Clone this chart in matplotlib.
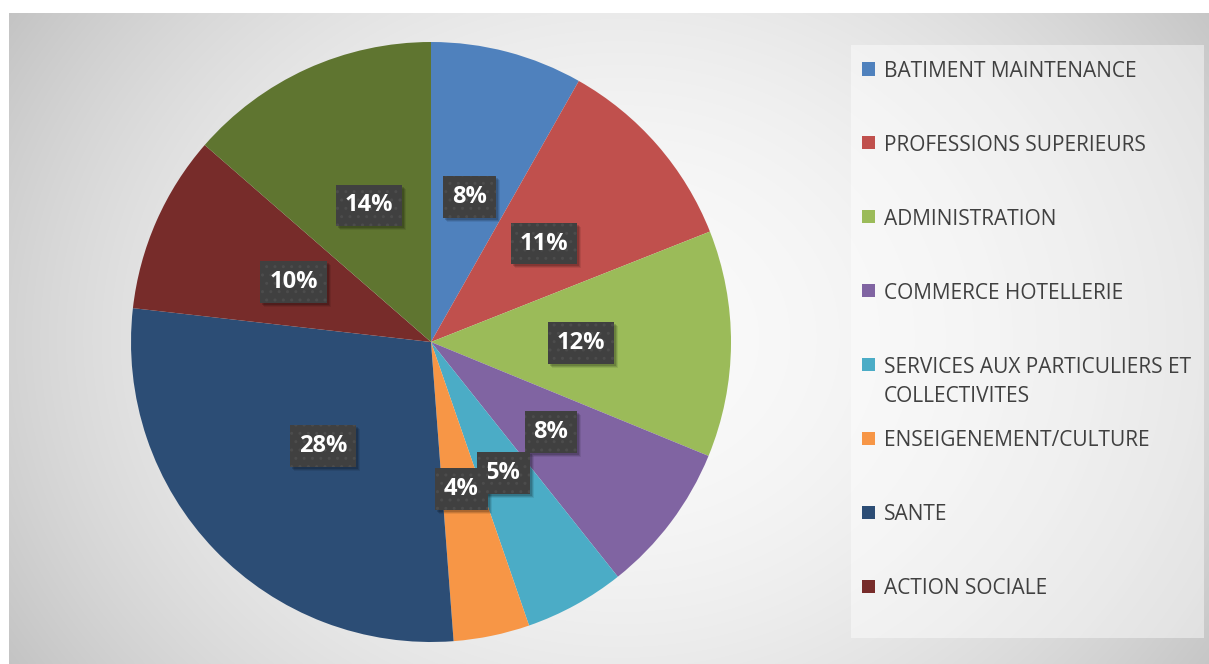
import numpy as np
import matplotlib
matplotlib.use('Agg')
import matplotlib.pyplot as plt
from matplotlib.patches import Rectangle

# data (share in %)
categories = ['BATIMENT MAINTENANCE', 'PROFESSIONS SUPERIEURS', 'ADMINISTRATION',
              'COMMERCE HOTELLERIE', 'SERVICES AUX PARTICULIERS ET\nCOLLECTIVITES',
              'ENSEIGENEMENT/CULTURE', 'SANTE', 'ACTION SOCIALE', 'AUTRES']
values = [8.2, 10.8, 12.2, 8.1, 5.4, 4.1, 28.0, 9.6, 13.6]
pct_labels = ['8%', '11%', '12%', '8%', '5%', '4%', '28%', '10%', '14%']
colors = ['#4f81bd', '#c0504d', '#9bbb59', '#8064a2', '#4bacc6',
          '#f79646', '#2c4d75', '#772c2a', '#5f7530']
n_legend = 8  # last entry is cut off in the original legend

W, H = 1209, 664
fig = plt.figure(figsize=(W / 100, H / 100), dpi=100)
fig.patch.set_facecolor('white')

# gradient background of the chart area
bg = fig.add_axes([9 / W, 0, (W - 9) / W, (H - 13) / H])
yy, xx = np.mgrid[13:H, 9:W]
v = 250 - 1.04e-4 * (xx - 620) ** 2 - 1.47e-4 * (yy - 338) ** 2
v = np.clip(v, 190, 252) / 255.0
bg.imshow(np.dstack([v, v, v]), aspect='auto', interpolation='bilinear')
bg.axis('off')

# legend box
fig.patches.append(Rectangle((851 / W, 1 - 638 / H), 353 / W, 593 / H,
                             transform=fig.transFigure, facecolor='white',
                             alpha=0.45, edgecolor='none', zorder=1))

# pie
ax = fig.add_axes([131 / W, 22 / H, 600 / W, 600 / H])
wedges, _ = ax.pie(values, colors=colors, startangle=90, counterclock=False,
                   wedgeprops=dict(linewidth=0))
ax.set_xlim(-1, 1)
ax.set_ylim(-1, 1)
ax.axis('off')

theta = 90 - 360 * (np.cumsum(values) - np.array(values) / 2) / sum(values)
labels = []
for t, lab in zip(theta, pct_labels):
    x = 0.5 * np.cos(np.radians(t))
    y = 0.5 * np.sin(np.radians(t))
    txt = ax.text(x, y, lab, color='white', fontsize=17, fontweight='bold',
                  family=['Open Sans', 'DejaVu Sans'], ha='center', va='center',
                  zorder=5,
                  bbox=dict(boxstyle='square,pad=0.38', facecolor='#404040',
                            edgecolor='#4c4c4c', hatch='..', linewidth=0))
    labels.append(txt)

# soft shadows under the label boxes
fig.canvas.draw()
inv = ax.transData.inverted()
for txt in labels:
    bb = txt.get_bbox_patch().get_window_extent()
    for k, a in [(4, 0.08), (3, 0.12), (2, 0.15)]:
        (x0, y0), (x1, y1) = inv.transform([(bb.x0 + k, bb.y0 - k), (bb.x1 + k, bb.y1 - k)])
        ax.add_patch(Rectangle((x0, y0), x1 - x0, y1 - y0, facecolor='black',
                               alpha=a, linewidth=0, zorder=4))

# legend drawn by hand to match the spacing of the original
for i in range(n_legend):
    yc = 69 + 73.9 * i
    fig.patches.append(Rectangle((862 / W, 1 - (yc + 6.5) / H), 13 / W, 13 / H,
                                 transform=fig.transFigure, facecolor=colors[i],
                                 edgecolor='none', zorder=3))
    for j, line in enumerate(categories[i].split('\n')):
        fig.text(884 / W, 1 - (yc + 29 * j) / H, line, ha='left',
                 va='center_baseline', fontsize=15, color='#404040',
                 family=['Open Sans', 'DejaVu Sans'], zorder=3)

fig.savefig('out.png', dpi=100)
